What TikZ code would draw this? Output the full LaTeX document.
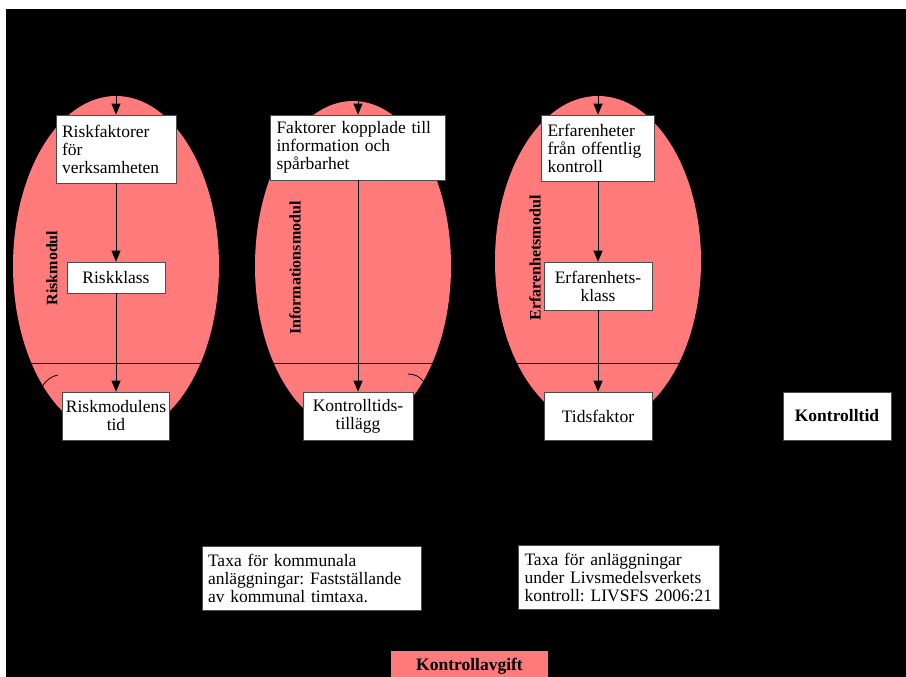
\documentclass[tikz,border=0pt]{standalone}
\usepackage{fontspec}
\setmainfont{Liberation Serif}
\newfontfamily\labfont{Liberation Serif}
\usetikzlibrary{arrows.meta}
\definecolor{pinkfill}{RGB}{255,122,122}
\begin{document}
\frenchspacing
\begin{tikzpicture}[x=1pt,y=-1pt,
  txt/.style={font=\fontsize{17.5}{18}\selectfont},
  lbox/.style={txt,draw=black!70,fill=white,line width=0.6pt,inner xsep=6pt,inner ysep=0pt,align=left},
  cbox/.style={txt,draw=black!70,fill=white,line width=0.6pt,inner sep=0pt,align=center},
  modlab/.style={font=\labfont\bfseries\fontsize{16}{17}\selectfont,rotate=90,inner sep=0pt},
  conn/.style={-{Triangle[length=11pt,width=9pt]},line width=0.8pt,black},
  thinline/.style={line width=0.8pt,black}]
\useasboundingbox (0,0) rectangle (906,677);
\fill[white] (0,0) rectangle (906,677);
\fill[black] (6,9) rectangle (906,677);
% ellipses
\fill[pinkfill] (116,266) ellipse [x radius=103, y radius=170];
\fill[pinkfill] (353,266) ellipse [x radius=98, y radius=165];
\fill[pinkfill] (598,261) ellipse [x radius=103, y radius=165];
% horizontal line and arcs
\coordinate (hl) at (6,363);
\coordinate (hr) at (906,363);
\draw[thinline] (hl) -- (hr);
\draw[thinline] (42,387) .. controls (46,380) and (52,376) .. (58,375);
\draw[thinline] (408,374) .. controls (415,374) and (420,377) .. (423,381);
% top entry points
\coordinate (t1) at (116,96);
\coordinate (t2) at (358,101);
\coordinate (t3) at (598,96);
% column 1
\node[lbox,text width=108pt,minimum height=68pt] (b1) at (116,149) {Riskfaktorer\\för\\verksamheten};
\node[cbox,minimum width=98pt,minimum height=31pt] (rk) at (116,277.5) {Riskklass};
\node[cbox,minimum width=107pt,minimum height=48pt] (rt) at (116,416) {Riskmodulens\\tid};
\node[modlab] (m1) at (52,268) {Riskmodul};
% column 2
\node[lbox,text width=163pt,minimum height=65pt] (b2) at (358,147.5) {Faktorer kopplade till\\information och\\spårbarhet};
\node[cbox,minimum width=110pt,minimum height=48pt] (kt) at (358,416) {Kontrolltids-\\tillägg};
\node[modlab] (m2) at (295,268) {Informationsmodul};
% column 3
\node[lbox,text width=101pt,minimum height=66pt] (b3) at (598,148) {Erfarenheter\\från offentlig\\kontroll};
\node[cbox,minimum width=108pt,minimum height=48pt] (ek) at (598,286) {Erfarenhets-\\klass};
\node[cbox,minimum width=108pt,minimum height=48pt] (tf) at (598,416) {Tidsfaktor};
\node[modlab] (m3) at (535,258) {Erfarenhetsmodul};
% right
\node[cbox,minimum width=108pt,minimum height=48pt,font=\bfseries\fontsize{17.5}{18}\selectfont] (ktid) at (837,416) {Kontrolltid};
% bottom
\node[lbox,text width=207pt,minimum height=64pt] (tx1) at (311.5,578) {Taxa för kommunala\\anläggningar: Fastställande\\av kommunal timtaxa.};
\node[lbox,inner xsep=6.5pt,text width=188pt,minimum height=64pt] (tx2) at (618.5,577) {Taxa för anläggningar\\under Livsmedelsverkets\\kontroll: LIVSFS 2006:21};
\node[cbox,fill=pinkfill,draw=none,minimum width=157pt,minimum height=30pt,font=\bfseries\fontsize{17.5}{18}\selectfont] (ka) at (469.5,666) {Kontrollavgift};
% arrows
\draw[conn] (t1) -- (b1.north);
\draw[conn] (b1.south) -- (rk.north);
\draw[conn] (rk.south) -- (rt.north);
\draw[conn] (t2) -- (b2.north);
\draw[conn] (b2.south) -- (kt.north);
\draw[conn] (t3) -- (b3.north);
\draw[conn] (b3.south) -- (ek.north);
\draw[conn] (ek.south) -- (tf.north);
\end{tikzpicture}
\end{document}
